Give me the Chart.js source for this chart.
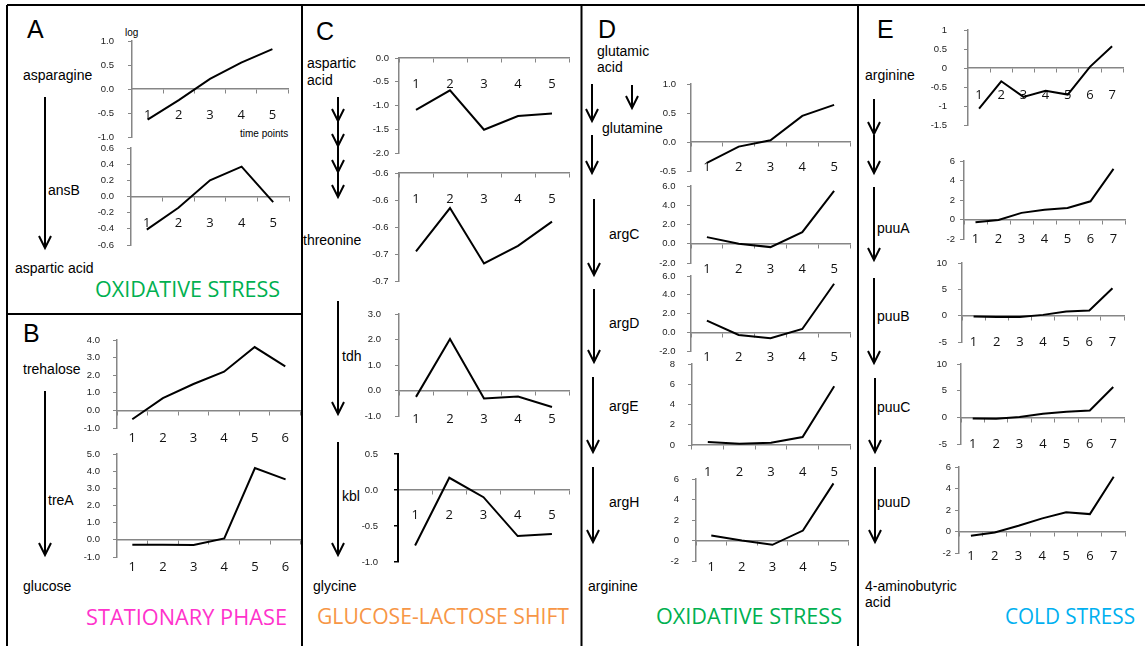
<!DOCTYPE html>
<html>
<head>
<meta charset="utf-8">
<script src="https://cdn.jsdelivr.net/npm/chart.js"></script>
<style>
  body { margin: 0; background: #fff; }
  #fig { position: relative; width: 1145px; height: 646px; overflow: hidden; background: #fff; }
  #fig canvas { position: absolute; }
  #ann { position: absolute; left: 0; top: 0; }
</style>
</head>
<body>
<div id="fig"><svg id="ann" width="1145" height="646" xmlns="http://www.w3.org/2000/svg"></svg></div>
<script>
// time points (categories)
var tp5 = ['1', '2', '3', '4', '5'];
var tp6 = ['1', '2', '3', '4', '5', '6'];
var tp7 = ['1', '2', '3', '4', '5', '6', '7'];

// log values
// A - oxidative stress
var asparagine = [-0.64, -0.23, 0.21, 0.55, 0.83];
var ansB = [-0.41, -0.14, 0.20, 0.37, -0.07];
// B - stationary phase
var trehalose = [-0.5, 0.7, 1.5, 2.2, 3.6, 2.5];
var treA = [-0.28, -0.28, -0.30, 0.08, 4.18, 3.52];
// C - glucose-lactose shift
var asparticAcid = [-1.09, -0.68, -1.51, -1.22, -1.17];
var threonine = [-0.658, -0.626, -0.667, -0.654, -0.636];
var tdh = [-0.25, 2.02, -0.31, -0.24, -0.65];
var kbl = [-0.77, 0.17, -0.10, -0.64, -0.61];
// D - oxidative stress
var glutamine = [-0.36, -0.08, 0.03, 0.45, 0.64];
var argC = [0.69, 0.0, -0.35, 1.2, 5.5];
var argD = [1.24, -0.29, -0.64, 0.35, 5.17];
var argE = [0.30, 0.13, 0.23, 0.79, 5.8];
var argH = [0.49, 0.0, -0.42, 0.97, 5.57];
// E - cold stress
var arginine = [-1.07, -0.35, -0.76, -0.6, -0.7, 0.03, 0.57];
var puuA = [-0.28, -0.05, 0.68, 1.0, 1.19, 1.87, 5.2];
var puuB = [-0.15, -0.25, -0.25, 0.15, 0.8, 1.0, 5.2];
var puuC = [-0.2, -0.25, 0.05, 0.68, 1.06, 1.3, 5.7];
var puuD = [-0.4, -0.1, 0.53, 1.22, 1.78, 1.62, 5.1];

// axis ranges (min, max, step) and label format
var charts = [
  { labels: tp5, values: asparagine, min: -1, max: 1, step: 0.5, fmt: 1, ax: 132, top: 41, bot: 137, right: 288, ly: 115, gap: 18 },
  { labels: tp5, values: ansB, min: -0.6, max: 0.6, step: 0.2, fmt: 1, ax: 130.5, top: 148, bot: 245, right: 288, ly: 223, gap: 17 },
  { labels: tp6, values: trehalose, min: -1, max: 4, step: 1, fmt: 1, ax: 117, top: 339.5, bot: 427, right: 301, ly: 437, gap: 17 },
  { labels: tp6, values: treA, min: -1, max: 5, step: 1, fmt: 1, ax: 117, top: 454, bot: 557, right: 301, ly: 567, gap: 17 },
  { labels: tp5, values: asparticAcid, min: -2, max: 0, step: 0.5, fmt: 1, ax: 398.5, top: 58.3, bot: 153.3, right: 568.5, ly: 85, gap: 10 },
  { labels: tp5, values: threonine, min: -0.68, max: -0.6, step: 0.02, fmt: 1, xAt: -0.6, ax: 398.5, top: 173.3, bot: 281.7, right: 568.5, ly: 200, gap: 10.5 },
  { labels: tp5, values: tdh, min: -1, max: 3, step: 1, fmt: 1, ax: 398.5, top: 314.3, bot: 416, right: 568.5, ly: 419, gap: 18 },
  { labels: tp5, values: kbl, min: -1, max: 0.5, step: 0.5, fmt: 1, ax: 397.7, top: 454, bot: 561.7, right: 568.5, ly: 515, gap: 20, dark: true },
  { labels: tp5, values: glutamine, min: -0.5, max: 1, step: 0.5, fmt: 1, ax: 690.5, top: 84.3, bot: 171.7, right: 849.3, ly: 168.3, gap: 15 },
  { labels: tp5, values: argC, min: -2, max: 6, step: 2, fmt: 1, ax: 690.5, top: 186, bot: 263.3, right: 849.3, ly: 270, gap: 15.5 },
  { labels: tp5, values: argD, min: -2, max: 6, step: 2, fmt: 1, ax: 690.5, top: 276, bot: 351, right: 849.3, ly: 357.7, gap: 15.5 },
  { labels: tp5, values: argE, min: 0, max: 8, step: 2, fmt: 0, ax: 691.7, top: 364.3, bot: 445.7, right: 849.3, ly: 472.7, gap: 17 },
  { labels: tp5, values: argH, min: -2, max: 6, step: 2, fmt: 0, ax: 695.7, top: 479.3, bot: 561.7, right: 849, ly: 568.3, gap: 17 },
  { labels: tp7, values: arginine, min: -1.5, max: 1, step: 0.5, fmt: 'g', ax: 967.7, top: 30, bot: 125, right: 1128, ly: 95.7, gap: 21 },
  { labels: tp7, values: puuA, min: -2, max: 6, step: 2, fmt: 0, ax: 963.7, top: 161, bot: 239.3, right: 1125, ly: 239.3, gap: 9 },
  { labels: tp7, values: puuB, min: -5, max: 10, step: 5, fmt: 0, ax: 961.7, top: 262.7, bot: 341.7, right: 1127, ly: 341.7, gap: 15 },
  { labels: tp7, values: puuC, min: -5, max: 10, step: 5, fmt: 0, ax: 960.7, top: 364.3, bot: 444, right: 1127.5, ly: 444, gap: 14 },
  { labels: tp7, values: puuD, min: -2, max: 6, step: 2, fmt: 0, ax: 959, top: 466.7, bot: 552.3, right: 1127, ly: 556, gap: 8 }
];

var fig = document.getElementById('fig');
// the y-scale asks for (label height / 2 + tick padding) above and below the plot,
// so keep the canvas margins larger than that to pin the plot area exactly
var YW = 60, PT = 40, PR = 4, PB = 40, TL = 4, XFONT = 13;
var GREY = '#868686';

function tickText(fmt, v) {
  if (fmt === 'g') return String(Number(v.toFixed(2)));
  return Number(v).toFixed(fmt);
}

charts.forEach(function (c) {
  var cv = document.createElement('canvas');
  var w = Math.round(YW + (c.right - c.ax) + PR);
  var h = Math.round(PT + (c.bot - c.top) + PB);
  cv.width = w; cv.height = h;
  cv.style.width = w + 'px'; cv.style.height = h + 'px';
  cv.style.left = (c.ax - YW) + 'px';
  cv.style.top = (c.top - PT) + 'px';
  fig.appendChild(cv);

  var xAt = c.xAt !== undefined ? c.xAt : 0;
  var axisY = c.top + (c.max - xAt) / (c.max - c.min) * (c.bot - c.top);
  var yLine = c.dark ? '#000' : GREY;

  new Chart(cv.getContext('2d'), {
    type: 'line',
    data: {
      labels: c.labels,
      datasets: [{ data: c.values, borderColor: '#000', borderWidth: 2, pointRadius: 0, tension: 0, fill: false }]
    },
    options: {
      responsive: false,
      animation: false,
      layout: { padding: { left: 0, top: PT, right: PR, bottom: PB } },
      plugins: { legend: { display: false }, tooltip: { enabled: false } },
      scales: {
        x: {
          type: 'category',
          offset: true,
          position: { y: xAt },
          grid: { offset: true, drawOnChartArea: false, tickLength: TL, color: GREY, lineWidth: 1 },
          border: { color: GREY, width: 1.5 },
          ticks: {
            padding: c.ly - axisY - TL - XFONT * 0.6,
            maxRotation: 0, autoSkip: false, color: '#111',
            font: { family: 'Open Sans', size: XFONT }
          }
        },
        y: {
          min: c.min, max: c.max,
          grid: { drawOnChartArea: false, tickLength: TL, color: yLine, lineWidth: c.dark ? 1.5 : 1 },
          border: { color: yLine, width: c.dark ? 2 : 1.5 },
          ticks: {
            stepSize: c.step, padding: c.gap - TL, color: '#222',
            font: { family: 'Liberation Sans', size: 9.5 },
            callback: function (v) { return tickText(c.fmt, v); }
          },
          afterFit: function (s) { s.width = YW; }
        }
      }
    }
  });
});

// annotations: panel frames, pathway arrows and texts
var svg = document.getElementById('ann');
var NS = 'http://www.w3.org/2000/svg';
function el(tag, attrs, txt) {
  var e = document.createElementNS(NS, tag);
  for (var k in attrs) e.setAttribute(k, attrs[k]);
  if (txt) e.textContent = txt;
  svg.appendChild(e);
  return e;
}

[[7, 5, 1145, 5], [7, 5, 7, 646], [7, 314, 302, 314], [302, 5, 302, 646], [581.5, 5, 581.5, 646], [858, 5, 858, 646]]
  .forEach(function (l) { el('line', { x1: l[0], y1: l[1], x2: l[2], y2: l[3], stroke: '#000', 'stroke-width': 2 }); });

function arrow(x, y1, y2) {
  el('line', { x1: x, y1: y1, x2: x, y2: y2, stroke: '#000', 'stroke-width': 2 });
  el('polyline', { points: (x - 6) + ',' + (y2 - 12) + ' ' + x + ',' + y2 + ' ' + (x + 6) + ',' + (y2 - 12), fill: 'none', stroke: '#000', 'stroke-width': 2 });
}
[
  [45, 97, 248], [45, 391, 555],
  [338, 97, 121], [338, 121, 146], [338, 146, 172], [338, 172, 197], [338, 301, 414], [338, 442, 555],
  [592, 84, 121], [592, 135, 173], [594, 199, 275], [594, 289, 362], [593, 377, 452], [593, 467, 542], [632, 85, 108],
  [874, 99, 134], [874, 135, 173], [874, 187, 260], [874, 278, 363], [875, 378, 452], [875, 467, 542]
].forEach(function (a) { arrow(a[0], a[1], a[2]); });

function label(x, y, s, size, opts) {
  opts = opts || {};
  var a = { x: x, y: y, 'font-family': opts.family || 'Liberation Sans', 'font-size': size, fill: opts.color || '#000', 'dominant-baseline': 'middle' };
  if (opts.len) { a.textLength = opts.len; a.lengthAdjust = 'spacingAndGlyphs'; }
  el('text', a, s);
}
var txt = [
  [27, 31, 'A', 25], [125, 33, 'log', 10], [23, 76, 'asparagine', 14], [240, 134, 'time points', 10],
  [48, 191, 'ansB', 14], [15, 269, 'aspartic acid', 14],
  [23, 335, 'B', 25], [23, 370, 'trehalose', 14], [48, 501, 'treA', 14], [23, 587, 'glucose', 14],
  [316, 33, 'C', 25], [307, 64, 'aspartic', 14], [307, 81, 'acid', 14], [303, 241, 'threonine', 14],
  [342, 357, 'tdh', 14], [342, 497, 'kbl', 14], [313, 587, 'glycine', 14],
  [598, 31, 'D', 25], [597, 52, 'glutamic', 14], [597, 68, 'acid', 14], [602, 129, 'glutamine', 14],
  [609, 235, 'argC', 14], [609, 324, 'argD', 14], [609, 407, 'argE', 14], [609, 503, 'argH', 14], [588, 587, 'arginine', 14],
  [877, 31, 'E', 25], [865, 76, 'arginine', 14], [877, 229, 'puuA', 14], [877, 317, 'puuB', 14],
  [877, 408, 'puuC', 14], [877, 503, 'puuD', 14], [865, 587, '4-aminobutyric', 14], [865, 603, 'acid', 14]
];
txt.forEach(function (t) { label(t[0], t[1], t[2], t[3]); });

var titles = [
  [95, 291, 'OXIDATIVE STRESS', '#00B050', 185],
  [86, 619, 'STATIONARY PHASE', '#FF33CC', 201],
  [317, 618, 'GLUCOSE-LACTOSE SHIFT', '#F79646', 252],
  [656, 618, 'OXIDATIVE STRESS', '#00B050', 186],
  [1005, 618, 'COLD STRESS', '#00B0F0', 130]
];
titles.forEach(function (t) { label(t[0], t[1], t[2], 21, { family: 'Open Sans', color: t[3], len: t[4] }); });
</script>
</body>
</html>
